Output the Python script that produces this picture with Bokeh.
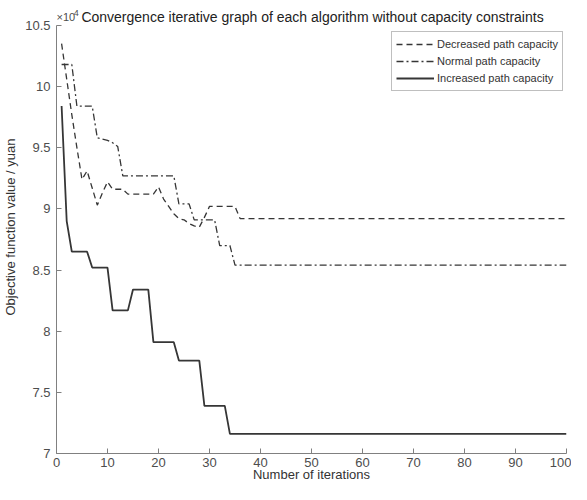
from bokeh.plotting import figure
from bokeh.models import Legend, LegendItem, Label, FixedTicker, Range1d
from bokeh.embed import file_html
from bokeh.resources import INLINE

# ---- data (objective values in units of 1e4 yuan) ----
dec_x = [1, 2, 3, 4, 5, 6, 7, 8, 9, 10, 11, 13, 14, 19, 20, 21, 22, 23, 24, 25, 26, 27, 28, 29, 30, 35, 36, 100]
dec_y = [10.35, 10.06, 9.77, 9.50, 9.24, 9.31, 9.17, 9.03, 9.13, 9.22, 9.16, 9.16, 9.12, 9.12, 9.18, 9.08,
         9.02, 8.96, 8.92, 8.91, 8.88, 8.86, 8.85, 8.93, 9.02, 9.02, 8.92, 8.92]

nor_x = [1, 3, 4, 7, 8, 10, 11, 12, 13, 23, 24, 26, 27, 31, 32, 34, 35, 100]
nor_y = [10.18, 10.18, 9.84, 9.84, 9.58, 9.56, 9.54, 9.51, 9.27, 9.27, 9.04, 9.04, 8.91, 8.91, 8.70, 8.70, 8.54, 8.54]

inc_x = [1, 2, 3, 6, 7, 10, 11, 14, 15, 18, 19, 23, 24, 28, 29, 33, 34, 100]
inc_y = [9.84, 8.90, 8.65, 8.65, 8.52, 8.52, 8.17, 8.17, 8.34, 8.34, 7.91, 7.91, 7.76, 7.76, 7.39, 7.39, 7.16, 7.16]

x_ticks = [0, 10, 20, 30, 40, 50, 60, 70, 80, 90, 100]
y_ticks = [7, 7.5, 8, 8.5, 9, 9.5, 10, 10.5]
y_tick_labels = ["7", "7.5", "8", "8.5", "9", "9.5", "10", "10.5"]

series_names = ["Decreased path capacity", "Normal path capacity", "Increased path capacity"]
title_text = "Convergence iterative graph of each algorithm without capacity constraints"
x_label = "Number of iterations"
y_label = "Objective function value / yuan"

FONT = "Liberation Sans"
AX = "#808080"
LINE = "#363636"

Y_MIN, Y_MAX = 7, 10.5
Y_TOP = 10.703  # headroom above the axis for the title

p = figure(width=571, height=484, output_backend="svg", toolbar_location=None,
           x_range=Range1d(0, 100), y_range=Range1d(Y_MIN, Y_TOP),
           min_border_left=49, min_border_right=5, min_border_top=0, min_border_bottom=30)

p.grid.visible = False
p.outline_line_color = None
p.background_fill_color = "white"

for ax in (p.xaxis[0], p.yaxis[0]):
    ax.axis_line_color = AX
    ax.major_tick_line_color = AX
    ax.major_tick_in = 5
    ax.major_tick_out = 0
    ax.minor_tick_line_color = None
    ax.major_label_text_color = "#4d4d4d"
    ax.major_label_text_font = FONT
    ax.major_label_text_font_size = "13px"
    ax.axis_label_text_font = FONT
    ax.axis_label_text_font_size = "13px"
    ax.axis_label_text_font_style = "normal"
    ax.axis_label_text_color = "#333333"

p.yaxis.bounds = (Y_MIN, Y_MAX)
p.xaxis.ticker = FixedTicker(ticks=x_ticks)
p.yaxis.ticker = FixedTicker(ticks=y_ticks)
p.yaxis.major_label_overrides = {t: s for t, s in zip(y_ticks, y_tick_labels)}
p.xaxis.axis_label = x_label
p.yaxis.axis_label = y_label
p.xaxis.major_label_standoff = 4
p.xaxis.axis_label_standoff = -3
p.yaxis.major_label_standoff = 6
p.yaxis.axis_label_standoff = 4

r_dec = p.line(dec_x, dec_y, line_color=LINE, line_width=1.3, line_dash="6 4")
r_nor = p.line(nor_x, nor_y, line_color=LINE, line_width=1.3, line_dash="7 3 2 3")
r_inc = p.line(inc_x, inc_y, line_color=LINE, line_width=1.8)

legend = Legend(items=[LegendItem(label=series_names[0], renderers=[r_dec]),
                       LegendItem(label=series_names[1], renderers=[r_nor]),
                       LegendItem(label=series_names[2], renderers=[r_inc])],
                location=(335, 362), padding=4, spacing=1, margin=0,
                label_height=16, glyph_height=16, glyph_width=38, label_standoff=3,
                label_text_font=FONT, label_text_font_size="11px", label_text_color="#333333",
                border_line_color=AX, border_line_width=1, background_fill_alpha=1.0)
p.add_layout(legend)

p.add_layout(Label(x=50.2, y=10.57, text=title_text, text_align="center", text_baseline="alphabetic",
                   text_font=FONT, text_font_size="14px", text_color="#222222"))
p.add_layout(Label(x=0.0, y=10.57, text="×10", text_align="left", text_baseline="alphabetic",
                   text_font=FONT, text_font_size="11px", text_color="#4d4d4d"))
p.add_layout(Label(x=3.4, y=10.6, text="4", text_align="left", text_baseline="alphabetic",
                   text_font=FONT, text_font_size="9px", text_color="#4d4d4d"))

open("out.html", "w").write(file_html(p, INLINE))
